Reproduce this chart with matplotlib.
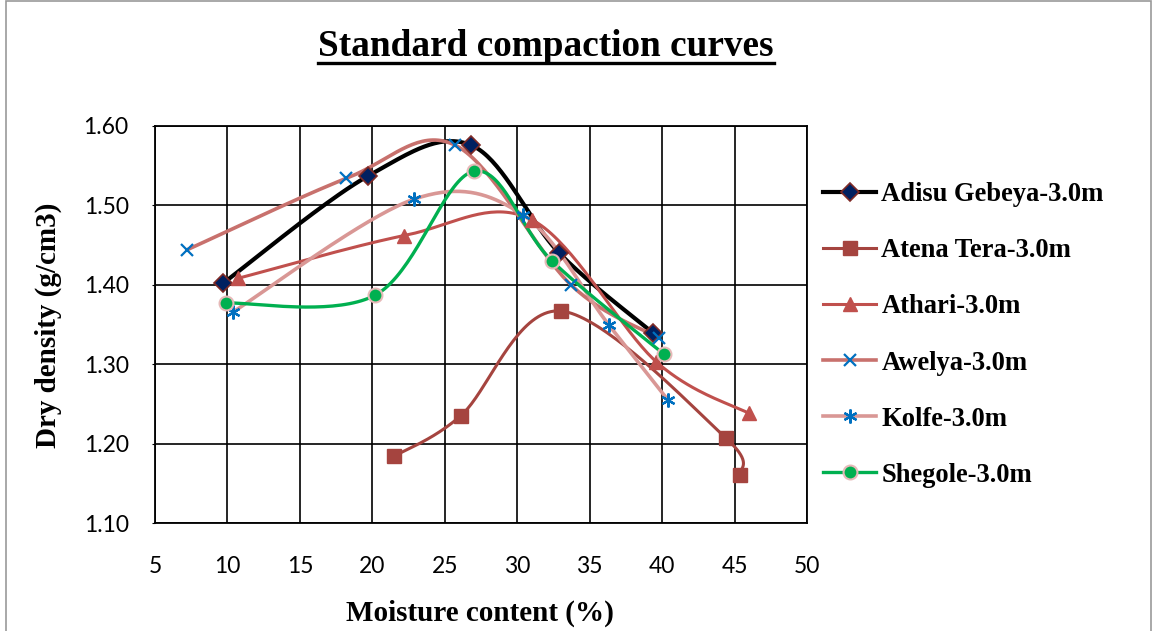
import numpy as np
import matplotlib
matplotlib.use("Agg")
import matplotlib.pyplot as plt
from matplotlib.lines import Line2D
from matplotlib.patches import Rectangle

# ---------------- data ----------------
names = ["Adisu Gebeya-3.0m", "Atena Tera-3.0m", "Athari-3.0m",
         "Awelya-3.0m", "Kolfe-3.0m", "Shegole-3.0m"]

adisu_x = [9.7, 19.7, 26.8, 32.9, 39.4]
adisu_y = [1.402, 1.537, 1.576, 1.440, 1.339]

atena_x = [21.5, 26.1, 33.0, 44.4, 45.4]
atena_y = [1.184, 1.235, 1.367, 1.207, 1.161]

athari_x = [10.7, 22.2, 31.0, 39.6, 46.0]
athari_y = [1.408, 1.462, 1.482, 1.303, 1.238]

awelya_x = [7.2, 18.2, 25.7, 33.7, 39.8]
awelya_y = [1.444, 1.534, 1.576, 1.400, 1.333]

kolfe_x = [10.4, 22.9, 30.4, 36.3, 40.4]
kolfe_y = [1.366, 1.508, 1.488, 1.350, 1.255]

shegole_x = [9.9, 20.2, 27.0, 32.4, 40.1]
shegole_y = [1.377, 1.387, 1.543, 1.430, 1.313]

xticks = [5, 10, 15, 20, 25, 30, 35, 40, 45, 50]
yticks = [1.10, 1.20, 1.30, 1.40, 1.50, 1.60]

XMIN, XMAX, YMIN, YMAX = 5, 50, 1.10, 1.60


def smooth(xs, ys, n=40):
    # Excel-like smoothed line (Catmull-Rom / Bezier), done in screen-ish units
    sx, sy = 652.0 / (XMAX - XMIN), 397.0 / (YMAX - YMIN)
    p = np.column_stack([(np.array(xs) - XMIN) * sx, (np.array(ys) - YMIN) * sy])
    pts = [p[0]]
    t = np.linspace(0, 1, n)[1:, None]
    for i in range(len(p) - 1):
        p0 = p[i - 1] if i > 0 else p[i]
        p3 = p[i + 2] if i + 2 < len(p) else p[i + 1]
        c1 = p[i] + (p[i + 1] - p0) / 6.0
        c2 = p[i + 1] - (p3 - p[i]) / 6.0
        seg = ((1 - t) ** 3) * p[i] + 3 * ((1 - t) ** 2) * t * c1 \
            + 3 * (1 - t) * t ** 2 * c2 + t ** 3 * p[i + 1]
        pts.extend(seg)
    pts = np.array(pts)
    return pts[:, 0] / sx + XMIN, pts[:, 1] / sy + YMIN


serif = "Liberation Serif"
fig = plt.figure(figsize=(11.56, 6.31), dpi=100)
W, H = 1156, 631
ax = fig.add_axes([155 / W, 1 - 523 / H, (807 - 155) / W, (523 - 126) / H])

series = [
    (adisu_x, adisu_y, dict(color="black", lw=3.0, marker="D", ms=9,
                            mfc="#002060", mec="#7F2A26", mew=1.2)),
    (atena_x, atena_y, dict(color="#A5443F", lw=2.2, marker="s", ms=10,
                            mfc="#A5443F", mec="#A5443F")),
    (athari_x, athari_y, dict(color="#C0504D", lw=2.2, marker="^", ms=10,
                              mfc="#C0504D", mec="#C0504D")),
    (awelya_x, awelya_y, dict(color="#C8716D", lw=2.6, marker="x", ms=9,
                              mec="#0070C0", mew=1.6)),
    (kolfe_x, kolfe_y, dict(color="#D99795", lw=2.6, marker=(6, 2, 0), ms=10,
                            mec="#0070C0", mfc="#0070C0", mew=1.6)),
    (shegole_x, shegole_y, dict(color="#00B050", lw=2.4, marker="o", ms=10,
                                mfc="#00B050", mec="#E6B9B8", mew=1.5)),
]

handles = []
for (xs, ys, st), name in zip(series, names):
    sx, sy = smooth(xs, ys)
    ax.plot(sx, sy, color=st["color"], lw=st["lw"], solid_capstyle="round", zorder=3)
    mk = {k: v for k, v in st.items() if k not in ("color", "lw")}
    ax.plot(xs, ys, ls="none", zorder=4, **mk)
    handles.append(Line2D([], [], color=st["color"], lw=st["lw"], **mk))

ax.set_xlim(XMIN, XMAX)
ax.set_ylim(YMIN, YMAX)
ax.set_xticks(xticks)
ax.set_yticks(yticks)
ax.set_yticklabels([f"{v:.2f}" for v in yticks])
ax.grid(True, color="black", lw=1.2)
ax.set_axisbelow(True)
for s in ax.spines.values():
    s.set_color("black")
    s.set_linewidth(1.3)
ax.tick_params(axis="x", length=0, pad=24, labelsize=16.5)
ax.tick_params(axis="y", length=2, pad=17, labelsize=16.5)
for lab in ax.get_xticklabels() + ax.get_yticklabels():
    lab.set_fontfamily("Lato")

# axis titles
fig.text(480 / W, 1 - 613 / H, "Moisture content (%)", ha="center", va="center",
         fontsize=21, fontweight="bold", family=serif)
fig.text(48 / W, 1 - 325 / H, "Dry density (g/cm3)", ha="center", va="center",
         rotation=90, fontsize=21, fontweight="bold", family=serif)

# title with underline
title = fig.text(546 / W, 1 - 47 / H, "Standard compaction curves", ha="center",
                 va="center", fontsize=26.8, fontweight="bold", family=serif)
fig.canvas.draw()
bb = title.get_window_extent().transformed(fig.transFigure.inverted())
fig.add_artist(Line2D([bb.x0, bb.x1], [1 - 63 / H] * 2, color="black", lw=2.4,
                      transform=fig.transFigure))

fig.legend(handles, names, loc="center left",
           bbox_to_anchor=(823 / W, 1 - 335 / H), frameon=False,
           borderpad=0, borderaxespad=0, handlelength=2.0, handletextpad=0.2,
           labelspacing=1.17, prop=dict(family=serif, weight="bold", size=19.1))

# chart border
fig.add_artist(Rectangle((6 / W, -0.05), 1145 / W, 1.05 - 1.5 / H, fill=False,
                         ec="#999999", lw=1.2, transform=fig.transFigure))

fig.savefig("out.png", dpi=100)
